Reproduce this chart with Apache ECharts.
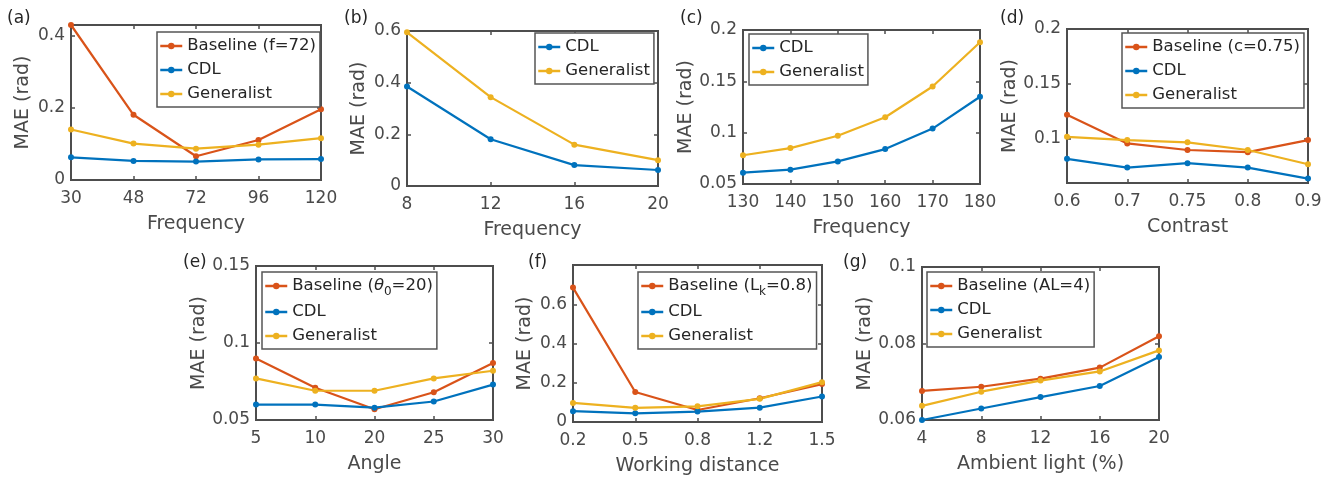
<!DOCTYPE html>
<html>
<head>
<meta charset="utf-8">
<script src="https://cdn.jsdelivr.net/npm/echarts@6/dist/echarts.min.js"></script>
<style>
  html, body { margin: 0; padding: 0; background: #fff; }
  #chart { width: 1333px; height: 477px; }
</style>
</head>
<body>
<div id="chart"></div>
<script>
// (a) frequency vs baseline f=72
const catA = ['30', '48', '72', '96', '120'];
const baseA = [0.430, 0.181, 0.066, 0.111, 0.196];
const cdlA = [0.063, 0.053, 0.051, 0.057, 0.058];
const genA = [0.140, 0.101, 0.087, 0.098, 0.116];
const ticksA = [0, 0.2, 0.4];

// (b)
const catB = ['8', '12', '16', '20'];
const cdlB = [0.385, 0.181, 0.081, 0.062];
const genB = [0.595, 0.344, 0.160, 0.100];
const ticksB = [0, 0.2, 0.4, 0.6];

// (c)
const catC = ['130', '140', '150', '160', '170', '180'];
const cdlC = [0.061, 0.064, 0.072, 0.084, 0.104, 0.135];
const genC = [0.078, 0.085, 0.097, 0.115, 0.145, 0.188];
const ticksC = [0.05, 0.1, 0.15, 0.2];

// (d) contrast
const catD = ['0.6', '0.7', '0.75', '0.8', '0.9'];
const baseD = [0.122, 0.096, 0.090, 0.088, 0.099];
const cdlD = [0.082, 0.074, 0.078, 0.074, 0.064];
const genD = [0.102, 0.099, 0.097, 0.090, 0.077];
const ticksD = [0.1, 0.15, 0.2];

// (e) angle
const catE = ['5', '10', '20', '25', '30'];
const baseE = [0.090, 0.071, 0.057, 0.068, 0.087];
const cdlE = [0.060, 0.060, 0.058, 0.062, 0.073];
const genE = [0.077, 0.069, 0.069, 0.077, 0.082];
const ticksE = [0.05, 0.1, 0.15];

// (f) working distance
const catF = ['0.2', '0.5', '0.8', '1.2', '1.5'];
const baseF = [0.685, 0.153, 0.061, 0.121, 0.193];
const cdlF = [0.055, 0.044, 0.053, 0.073, 0.130];
const genF = [0.097, 0.072, 0.080, 0.118, 0.203];
const ticksF = [0, 0.2, 0.4, 0.6];

// (g) ambient light
const catG = ['4', '8', '12', '16', '20'];
const baseG = [0.0676, 0.0687, 0.0708, 0.0737, 0.0819];
const cdlG = [0.0600, 0.0630, 0.0660, 0.0689, 0.0765];
const genG = [0.0637, 0.0674, 0.0703, 0.0727, 0.0782];
const ticksG = [0.06, 0.08, 0.1];

const colors = { base: '#D95319', cdl: '#0072BD', gen: '#EDB120' };
const axisColor = '#4d4d4d';
const labelColor = '#4a4a4a';
const font = 'DejaVu Sans';

const panels = [
    { tag: '(a)', tagPos: [7, 10], box: [71, 25, 321, 180], cats: catA, ymin: 0, ymax: 0.43, ticks: ticksA,
      xName: 'Frequency', base: baseA, baseName: 'Baseline (f=72)', cdl: cdlA, gen: genA, leg: [157, 32] },
    { tag: '(b)', tagPos: [344, 10], box: [407, 31, 658, 186], cats: catB, ymin: 0, ymax: 0.6, ticks: ticksB,
      xName: 'Frequency', cdl: cdlB, gen: genB, leg: [535, 33] },
    { tag: '(c)', tagPos: [680, 10], box: [743, 30, 980, 184], cats: catC, ymin: 0.05, ymax: 0.2, ticks: ticksC,
      xName: 'Frequency', cdl: cdlC, gen: genC, leg: [749, 34] },
    { tag: '(d)', tagPos: [1000, 10], box: [1067, 29, 1308, 183], cats: catD, ymin: 0.06, ymax: 0.2, ticks: ticksD,
      xName: 'Contrast', base: baseD, baseName: 'Baseline (c=0.75)', cdl: cdlD, gen: genD, leg: [1122, 33] },
    { tag: '(e)', tagPos: [183, 254], box: [256, 266, 493, 420], cats: catE, ymin: 0.05, ymax: 0.15, ticks: ticksE,
      xName: 'Angle', base: baseE, baseName: 'Baseline (θ0=20)', baseRich: 'Baseline ({it|θ}{sub|0}=20)',
      cdl: cdlE, gen: genE, leg: [262, 272] },
    { tag: '(f)', tagPos: [528, 254], box: [573, 265, 822, 423], cats: catF, ymin: 0, ymax: 0.8, ticks: ticksF,
      xName: 'Working distance', base: baseF, baseName: 'Baseline (Lk=0.8)', baseRich: 'Baseline (L{sub|k}=0.8)',
      cdl: cdlF, gen: genF, leg: [638, 272] },
    { tag: '(g)', tagPos: [843, 254], box: [922, 267, 1159, 420], cats: catG, ymin: 0.06, ymax: 0.1, ticks: ticksG,
      xName: 'Ambient light (%)', base: baseG, baseName: 'Baseline (AL=4)', cdl: cdlG, gen: genG, leg: [927, 272] }
];

const grid = [], xAxis = [], yAxis = [], series = [], legend = [], title = [];

panels.forEach((p, i) => {
    const [x0, y0, x1, y1] = p.box;
    grid.push({ left: x0, top: y0, width: x1 - x0, height: y1 - y0, show: true,
        borderColor: axisColor, borderWidth: 2, backgroundColor: '#fff' });

    const tick = { show: true, inside: true, length: 4, lineStyle: { color: axisColor, width: 1.5 } };
    const line = { show: true, onZero: false, lineStyle: { color: axisColor, width: 2 } };

    // bottom axis with labels, top axis only for the mirrored ticks
    xAxis.push({ gridIndex: i, type: 'category', data: p.cats, boundaryGap: false, position: 'bottom',
        axisLine: line, axisTick: { ...tick, alignWithLabel: true },
        axisLabel: { color: labelColor, fontFamily: font, fontSize: 17, margin: 10, interval: 0 },
        name: p.xName, nameLocation: 'middle', nameGap: 35,
        nameTextStyle: { color: labelColor, fontFamily: font, fontSize: 19 } });
    xAxis.push({ gridIndex: i, type: 'category', data: p.cats, boundaryGap: false, position: 'top',
        axisLine: line, axisTick: tick, axisLabel: { show: false } });

    yAxis.push({ gridIndex: i, type: 'value', min: p.ymin, max: p.ymax, position: 'left',
        axisLine: line, splitLine: { show: false },
        axisTick: { ...tick, customValues: p.ticks },
        axisLabel: { color: labelColor, fontFamily: font, fontSize: 17, margin: 6, customValues: p.ticks },
        name: 'MAE (rad)', nameLocation: 'middle', nameGap: 38,
        nameTextStyle: { color: labelColor, fontFamily: font, fontSize: 19 } });
    yAxis.push({ gridIndex: i, type: 'value', min: p.ymin, max: p.ymax, position: 'right',
        axisLine: line, splitLine: { show: false },
        axisTick: { ...tick, customValues: p.ticks }, axisLabel: { show: false } });

    const mk = (name, data, color) => ({
        name, type: 'line', data, xAxisIndex: 2 * i, yAxisIndex: 2 * i,
        symbol: 'circle', symbolSize: 6, clip: false,
        lineStyle: { color, width: 2.2 }, itemStyle: { color }
    });
    const names = [];
    if (p.base) { series.push(mk(p.baseName, p.base, colors.base)); names.push(p.baseName); }
    series.push(mk('CDL', p.cdl, colors.cdl)); names.push('CDL');
    series.push(mk('Generalist', p.gen, colors.gen)); names.push('Generalist');

    legend.push({
        orient: 'vertical', left: p.leg[0], top: p.leg[1], data: names,
        itemWidth: 22, itemHeight: 8, itemGap: 4,
        padding: [4, 4, 3, 2], backgroundColor: '#fff',
        borderColor: '#555', borderWidth: 1.5, borderRadius: 0,
        selectedMode: false,
        lineStyle: { width: 2.5 },
        formatter: name => (name === p.baseName && p.baseRich) ? p.baseRich : name,
        textStyle: { color: '#262626', fontFamily: font, fontSize: 16.5, lineHeight: 20,
            rich: {
                it: { fontFamily: font, fontSize: 16.5, fontStyle: 'italic', color: '#262626' },
                sub: { fontFamily: font, fontSize: 12, color: '#262626', padding: [12, 0, 0, 0] }
            } }
    });

    title.push({ text: p.tag, left: p.tagPos[0], top: p.tagPos[1], padding: 0,
        textStyle: { color: '#262626', fontFamily: font, fontSize: 17, fontWeight: 'normal' } });
});

const chart = echarts.init(document.getElementById('chart'), null, { renderer: 'canvas' });
chart.setOption({
    backgroundColor: '#fff',
    animation: false,
    title, grid, xAxis, yAxis, legend, series
});
</script>
</body>
</html>
